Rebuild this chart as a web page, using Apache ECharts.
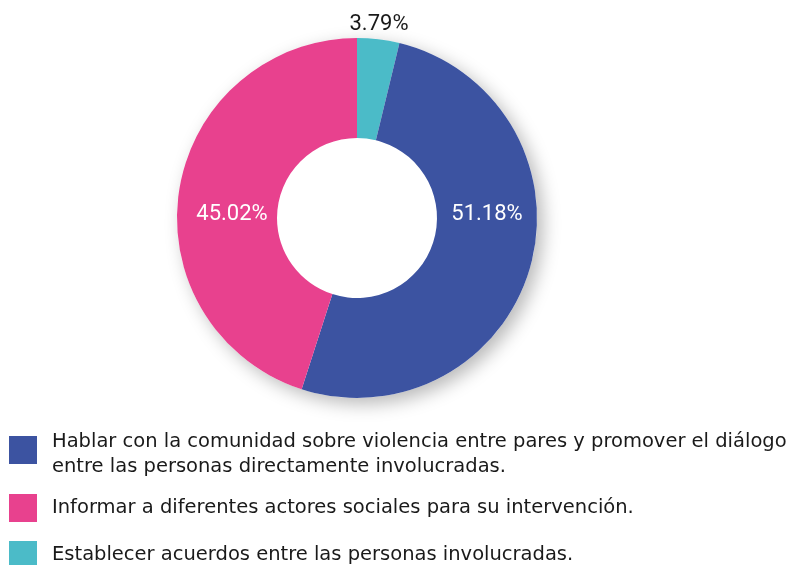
<!DOCTYPE html>
<html>
<head>
<meta charset="utf-8">
<script src="https://cdn.jsdelivr.net/npm/echarts@6/dist/echarts.min.js"></script>
<style>html,body{margin:0;padding:0;background:#fff}#c{width:788px;height:565px}</style>
</head>
<body>
<div id="c"></div>
<script>
// Data
const categories = [
  'Establecer acuerdos entre las personas involucradas.',
  'Hablar con la comunidad sobre violencia entre pares y promover el diálogo\nentre las personas directamente involucradas.',
  'Informar a diferentes actores sociales para su intervención.'
];
const values = [3.79, 51.18, 45.02];
const colors = ['#4bbbc8', '#3c53a1', '#e8418e'];
const legendOrder = [1, 2, 0];

// Layout
const CX = 357, CY = 218, R_IN = 80, R_OUT = 180;
const FONT = 'Roboto';
const LEGEND_FONT = 'DejaVu Sans';

const chart = echarts.init(document.getElementById('c'), null, {renderer: 'canvas'});
const data = categories.map((name, i) => ({
  name: name,
  value: values[i],
  itemStyle: {color: colors[i]},
  label: i === 0
    ? {position: 'outside', color: '#1a1a1a'}
    : {position: 'inside', color: '#ffffff'}
}));

const legendText = {
  fontFamily: LEGEND_FONT, fontSize: 19.5, lineHeight: 25, color: '#1a1a1a',
  padding: [0, 0, 0, 10],
  rich: {gap: {lineHeight: 9, fontSize: 1}}
};
const legendBase = {
  orient: 'vertical',
  left: 9,
  height: 170,
  padding: 0,
  itemWidth: 28,
  itemHeight: 28,
  itemGap: 19,
  icon: 'rect',
  selectedMode: false
};

chart.setOption({
  animation: false,
  legend: [
    Object.assign({}, legendBase, {
      top: 420.5,
      data: [categories[legendOrder[0]]],
      formatter: name => '{gap| }\n' + name,
      textStyle: legendText
    }),
    Object.assign({}, legendBase, {
      top: 494,
      data: legendOrder.slice(1).map(i => categories[i]),
      textStyle: legendText
    })
  ],
  series: [
    {
      type: 'pie',
      silent: true,
      center: [CX, CY],
      radius: [0, R_OUT],
      z: 1,
      label: {show: false},
      labelLine: {show: false},
      data: [{value: 1, name: '_bg', itemStyle: {color: '#ffffff', shadowBlur: 18, shadowOffsetX: 6, shadowOffsetY: 6, shadowColor: 'rgba(0,0,0,0.28)'}}]
    },
    {
      type: 'pie',
      center: [CX, CY],
      radius: [R_IN, R_OUT],
      startAngle: 90,
      clockwise: true,
      z: 2,
      label: {
        show: true,
        fontFamily: FONT,
        fontSize: 22,
        formatter: p => p.value.toFixed(2) + '%'
      },
      labelLine: {show: false},
      labelLayout: function (params) {
        const mid = (R_IN + R_OUT) / 2;
        if (params.dataIndex === 0) {
          return {x: CX + 22, y: CY - 194, align: 'center', verticalAlign: 'middle'};
        } else if (params.dataIndex === 1) {
          return {x: CX + mid, y: CY - 4, align: 'center', verticalAlign: 'middle'};
        }
        return {x: CX - mid + 5, y: CY - 4, align: 'center', verticalAlign: 'middle'};
      },
      data: data
    }
  ]
});
</script>
</body>
</html>
